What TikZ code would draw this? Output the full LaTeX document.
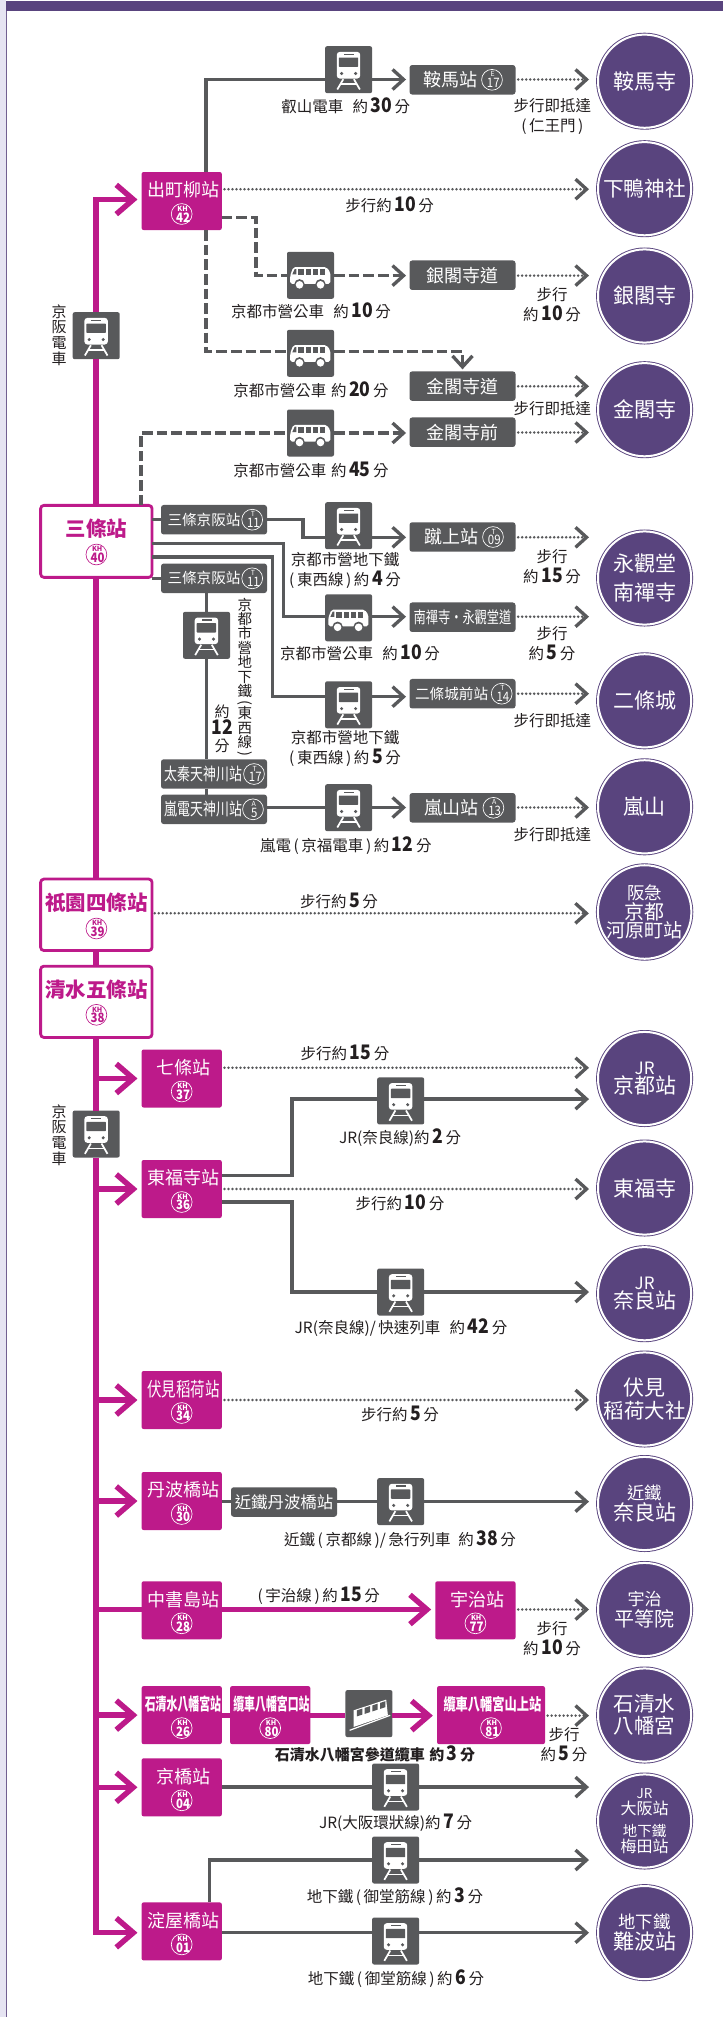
\documentclass[tikz,border=0pt]{standalone}
\usepackage{fontspec}
\setmainfont{Noto Sans CJK TC}
\newfontfamily\cond{Noto Sans CJK TC}[FakeStretch=0.75]
\newfontfamily\condb{Noto Sans CJK TC}[FakeStretch=0.64]
\newfontfamily\condn{Noto Sans CJK TC}[FakeStretch=0.88]
\usetikzlibrary{arrows.meta}
\definecolor{gr}{HTML}{58595B}
\definecolor{mg}{HTML}{BD1A8A}
\definecolor{pu}{HTML}{59447E}
\definecolor{tx}{HTML}{231F20}
\definecolor{lav}{HTML}{E6E4F2}
\newcommand\fz[2][0]{\fontsize{\fpeval{#2*0.75}}{\fpeval{(#1==0?#2*1.2:#1)*0.75}}\selectfont}
\newcommand\nm[1]{\,{\fz{20}\condn\bfseries #1}\,}
\newcommand\vparen[1]{\rotatebox[origin=c]{-90}{#1}}
\newcounter{lbl}
\tikzset{
 gl/.style={draw=gr,line width=2.5pt},
 gd/.style={gl,dash pattern=on 8pt off 3pt},
 gt/.style={draw=gr,line width=2.1pt,line cap=round,dash pattern=on 0pt off 3pt,shorten <=2pt},
 ga/.style={-{Straight Barb[length=8.25pt,width=15pt,line width=2.5pt]}},
 tobox/.style={ga,shorten >=2.6pt},
 tocirc/.style={ga,shorten >=6.75pt},
 ml/.style={draw=mg,line width=4.1pt},
 ma/.style={-{Straight Barb[length=12.75pt,width=22pt,line width=4.1pt]},shorten >=3.1pt},
 ibox/.style={fill=gr,rounded corners=1.5pt,minimum width=35.25pt,minimum height=35.25pt,inner sep=0pt,outer sep=0pt},
 mbox/.style={fill=mg,rounded corners=1.5pt,minimum height=43.5pt,inner sep=0pt,outer sep=0pt},
 gbox/.style={fill=gr,rounded corners=2pt,minimum width=79.5pt,minimum height=22.1pt,inner sep=0pt,outer sep=0pt},
 wbox/.style={draw=mg,fill=white,line width=2.1pt,rounded corners=2.5pt,minimum width=83.6pt,inner sep=0pt,outer sep=0pt},
 tcirc/.style={circle,draw=pu,double=white,double distance=1.5pt,line width=.68pt,fill=pu,minimum size=69.9pt,inner sep=0pt,outer sep=0pt,text=white,align=center},
 lbl/.style={inner sep=0pt,text=tx,align=center},
 bdg/.style={circle,minimum size=15.6pt,inner sep=0pt,line width=.5pt},
}
\newcommand\lb[4][]{\stepcounter{lbl}\node[lbl,font={\fz[20]{15.5}},#1] (lb\thelbl) at (#2,#3) {#4};}
% badge: x y letter number colour
\newcommand\bd[6][\bfseries]{\stepcounter{lbl}\node[bdg,draw=#6] (bd\thelbl) at (#2,#3) {};
 \node[inner sep=0pt,text=#6] (bl\thelbl) at (#2,#3-5.4) {\fz{7}#1 #4};
 \node[inner sep=0pt,text=#6] (bn\thelbl) at (#2,#3+3.2) {\fz{13}\condn #1 #5};}
% magenta station: name cx cy width label font number
\newcommand\stM[7]{\node[mbox,minimum width=#4*0.75pt] (#1) at (#2,#3) {};
 \node[inner sep=0pt,text=white] (#1l) at (#2,#3-11) {#6 #5};
 \bd{#2}{#3+13}{KH}{#7}{white}}
% white station
\newcommand\stW[6]{\node[wbox,minimum height=#3*0.75pt] (#1) at (96.35,#2) {};
 \node[inner sep=0pt,text=mg] (#1l) at (96.35,#4) {\fz{20.5}\bfseries #5};
 \bd{96.4}{#4+25.5}{KH}{#6}{mg}}
% grey station: name cx cy label labelcx font letter number badgecx
\newcommand\stG[9]{\node[gbox] (#1) at (#2,#3) {};
 \node[inner sep=0pt,text=white] (#1l) at (#5,#3) {#6 #4};
 \bd[]{#9}{#3}{#7}{#8}{white}}
\newcommand\stP[4]{\node[gbox] (#1) at (#2,#3) {};
 \node[inner sep=0pt,text=white] (#1l) at (#2,#3) {#4};}
\newcommand\icTrain[3]{\node[ibox] (#1) at (#2,#3) {};
 \begin{scope}[shift={(#2,#3)}]
 \fill[white,rounded corners=2.2pt] (-11.8,-17.8) rectangle (11.6,8.8);
 \fill[gr,rounded corners=.5pt] (-9.8,-12.2) rectangle (9.6,-2.8);
 \fill[gr] (-5,-16.2) rectangle (5,-14.6);
 \fill[gr] (-7,3.8) circle (1.7); \fill[gr] (7,3.8) circle (1.7);
 \draw[white,line width=1.3pt] (-5.3,9.5)--(-11.3,19.8) (5.3,9.5)--(11.3,19.8);
 \draw[white,line width=.9pt] (-7.8,14.2)--(7.8,14.2);
 \end{scope}}
\newcommand\icBus[3]{\node[ibox] (#1) at (#2,#3) {};
 \begin{scope}[shift={(#2,#3)}]
 \fill[white,rounded corners=1.4pt] (-20.3,8.6)--(-20.3,0)--(-17.2,-8.2)--(16,-8.2)--(19.8,-3)--(19.8,8.6)--cycle;
 \foreach \a/\b in {-12.3/-6.7,-5/0.3,2.2/7.2,9/14.6} \fill[gr] (\a,-6.3) rectangle (\b,-0.3);
 \fill[gr] (-18.2,-1)--(-15.8,-6.3)--(-14.2,-6.3)--(-14.2,-1)--cycle;
 \fill[gr] (-11,9) circle (5.2); \fill[gr] (10,9) circle (5.2);
 \fill[white] (-11,9.5) circle (3.8); \fill[white] (10,9.5) circle (3.8);
 \end{scope}}
\newcommand\icFuni[3]{\node[ibox] (#1) at (#2,#3) {};
 \begin{scope}[shift={(#2,#3)}]
 \fill[white] (-15.3,-3.3)--(17.3,-14)--(19,1.7)--(-15.3,13.3)--cycle;
 \foreach \a in {0,1,2,3} {\fill[gr] ({-12+\a*7.7},{-3.2-\a*2.5})--({-6.6+\a*7.7},{-5-\a*2.5})--({-6.6+\a*7.7},{1-\a*2.5})--({-12+\a*7.7},{2.8-\a*2.5})--cycle;}
 \draw[white,line width=.9pt] (-19.3,16.7)--(21.3,1.7);
 \end{scope}}
\newcommand\temple[3]{\node[tcirc] (#1) at (644.6,#2) {#3};}
\begin{document}
\begin{tikzpicture}[x=0.75pt,y=-0.75pt]
\useasboundingbox (0,0) rectangle (723,2017);
\fill[white] (0,0) rectangle (723,2017);
\fill[lav] (0,0) rectangle (5.5,2017);
\fill[pu!85] (5.5,1) rectangle (7,2017);
\fill[pu] (5.5,1) rectangle (723,11);
% ---------- temples
\temple{tKurama}{81.2}{\fz{21}鞍馬寺}
\temple{tShimo}{188.7}{\fz{20.7}下鴨神社}
\temple{tGin}{296}{\fz{21}銀閣寺}
\temple{tKin}{409.7}{\fz{21}金閣寺}
\temple{tEikan}{578}{\fz{21}永觀堂\\[5.8pt]\fz{21}南禪寺}
\temple{tNijo}{700.8}{\fz{21}二條城}
\temple{tArashi}{806.8}{\fz{21}嵐山}
\temple{tHankyu}{912}{\fz{17.5}阪急\\\fz{20}京都\\\fz{19}河原町站}
\temple{tKyoto}{1078.5}{\fz{17}JR\\\fz{21}京都站}
\temple{tTofuku}{1188}{\fz{21}東福寺}
\temple{tNara}{1293.7}{\fz{17}JR\\\fz{21}奈良站}
\temple{tInari}{1399}{\fz{21}伏見\\[1.3pt]\fz{20.5}稻荷大社}
\temple{tKintetsu}{1503.5}{\fz{17.3}近鐵\\\fz{21}奈良站}
\temple{tByodo}{1609.5}{\fz{17}宇治\\[.5pt]\fz{20}平等院}
\temple{tIwashi}{1715}{\fz{20.5}石清水\\[1.5pt]\fz{20.5}八幡宮}
\temple{tOsaka}{1821}{\fz{13.5}JR\\\fz{16}大阪站\\[4.5pt]\fz{14.5}地下鐵\\\fz{16}梅田站}
\temple{tNamba}{1932.6}{\fz{17.4}地下鐵\\\fz{21}難波站}
% ---------- white stations
\stW{sanjo}{541.35}{72}{529}{三條站}{40}
\stW{gion}{914.8}{71.5}{903}{祇園四條站}{39}
\stW{kiyo}{1001.8}{71.3}{989.3}{清水五條站}{38}
% ---------- magenta stations
\stM{chu}{181.7}{201}{80.2}{出町柳站}{\fz{18}}{42}
\stM{nana}{181.7}{1078.5}{80.2}{七條站}{\fz{18}}{37}
\stM{tofu}{181.7}{1189}{80.2}{東福寺站}{\fz{18}}{36}
\stM{fushi}{181.7}{1400}{80.2}{伏見稻荷站}{\fz{19.3}\cond}{34}
\stM{tanba}{181.7}{1501}{80.2}{丹波橋站}{\fz{18}}{30}
\stM{chus}{181.7}{1610.3}{80.2}{中書島站}{\fz{18}}{28}
\stM{uji}{475.4}{1610.3}{80.2}{宇治站}{\fz{18}}{77}
\stM{iwa}{181.7}{1715.1}{80.2}{石清水八幡宮站}{\fz{17}\condb\bfseries}{26}
\stM{ropeA}{270.2}{1715.1}{80.2}{纜車八幡宮口站}{\fz{17}\condb\bfseries}{80}
\stM{ropeB}{491}{1715.1}{108}{纜車八幡宮山上站}{\fz{16.3}\cond\bfseries}{81}
\stM{kyob}{181.7}{1787.3}{80.2}{京橋站}{\fz{18}}{04}
\stM{yodo}{181.7}{1931.4}{80.2}{淀屋橋站}{\fz{18}}{01}
% ---------- grey stations
\stG{kur}{462.5}{79.8}{鞍馬站}{448.9}{\fz{18}}{E}{17}{492}
\stP{ginD}{462.5}{275.2}{\fz{18}銀閣寺道}
\stP{kinD}{462.5}{386.1}{\fz{18}金閣寺道}
\stP{kinM}{462.5}{432.2}{\fz{18}金閣寺前}
\stG{kabA}{214}{519.7}{三條京阪站}{202.4}{\fz{14.6}}{T}{11}{252.2}
\stG{kabB}{214}{578.3}{三條京阪站}{202.4}{\fz{14.6}}{T}{11}{252.2}
\stG{keage}{462.5}{537}{蹴上站}{449.6}{\fz{18}}{T}{09}{493}
\stP{nanD}{462.5}{617.2}{\fz{16.3}\cond 南禪寺·永觀堂道}
\stG{nijoM}{462.5}{693.7}{二條城前站}{450}{\fz{14.6}}{T}{14}{501.7}
\stG{futo}{214}{774}{太秦天神川站}{202}{\fz{17.2}\cond}{T}{17}{254}
\stG{randen}{214}{809.3}{嵐電天神川站}{202}{\fz{17.2}\cond}{A}{5}{253}
\stG{arashi}{462.5}{807.8}{嵐山站}{449.6}{\fz{18}}{A}{13}{493.4}
\stP{kinT}{284}{1502}{\fz{16.4}近鐵丹波橋站}
% ---------- icons
\icTrain{iMainA}{96.2}{335.7}
\icTrain{iMainB}{96.2}{1134}
\icTrain{iKur}{348.6}{69.7}
\icBus{iGin}{310.5}{275.3}
\icBus{iKin}{310.5}{353.3}
\icBus{iKinM}{310.5}{433}
\icTrain{iKeage}{348.6}{525.7}
\icBus{iNan}{348.6}{617.8}
\icTrain{iNijo}{348.6}{704.8}
\icTrain{iTozai}{206.5}{635.3}
\icTrain{iRan}{348.6}{807.7}
\icTrain{iJrA}{400.7}{1100.9}
\icTrain{iJrB}{400.7}{1292}
\icTrain{iKintetsu}{400.7}{1501.6}
\icFuni{iFuni}{368.9}{1713.6}
\icTrain{iKanjo}{395.6}{1787}
\icTrain{iMetA}{395.6}{1860}
\icTrain{iMetB}{395.6}{1941}
% ---------- row coordinates
\coordinate (rKur) at (0,79.5);
\coordinate (rChu) at (0,199.5);
\coordinate (rShimo) at (0,189.2);
\coordinate (g1) at (256,217.7);
\coordinate (rGin) at (0,275.6);
\coordinate (k1) at (206.1,351.7);
\coordinate (rKinD) at (0,386.3);
\coordinate (s1) at (141,433);
\coordinate (rKinM) at (0,432.5);
\coordinate (c1) at (303,519.7);
\coordinate (rKe) at (0,537.3);
\coordinate (c2) at (283.6,543.3);
\coordinate (rNan) at (0,616.7);
\coordinate (c3) at (272.5,557);
\coordinate (rNij) at (0,696.7);
\coordinate (rNijT) at (0,693.7);
\coordinate (rRan) at (0,807.5);
\coordinate (rGion) at (0,913.3);
\coordinate (rNana) at (0,1067.8);
\coordinate (rJrA) at (0,1099.1);
\coordinate (d1) at (292,1175.2);
\coordinate (rTofA) at (0,1189);
\coordinate (d2) at (292,1202);
\coordinate (rJrB) at (0,1292);
\coordinate (rInari) at (0,1400);
\coordinate (rTan) at (0,1501.6);
\coordinate (rChus) at (0,1609.5);
\coordinate (rIwa) at (0,1715.6);
\coordinate (rKyob) at (0,1787.1);
\coordinate (e1) at (209.3,1860);
\coordinate (rYodoM) at (0,1932.7);
% ---------- main line
\draw[ml,ma] (iMainA.north) |- (chu.west |- rChu);
\draw[ml] (iMainA.south) -- (sanjo.north -| iMainA);
\draw[ml] (sanjo.south -| iMainA) -- (gion.north -| iMainA);
\draw[ml] (gion.south -| iMainA) -- (kiyo.north -| iMainA);
\draw[ml] (kiyo.south -| iMainA) -- (iMainB.north);
\draw[ml,ma] (iMainB.south) |- (yodo.west |- rYodoM);
\foreach \s in {nana,tofu,fushi,tanba,iwa,kyob} \draw[ml,ma] (iMainB |- \s.west) -- (\s.west);
\draw[ml] (iMainB |- rChus) -- (chus.west |- rChus);
\draw[ml,ma] (chus.east |- rChus) -- (uji.west |- rChus);
\draw[ml] (iwa.east |- rIwa) -- (ropeA.west |- rIwa);
\draw[ml] (ropeA.east |- rIwa) -- (iFuni.west |- rIwa);
\draw[ml,ma] (iFuni.east |- rIwa) -- (ropeB.west |- rIwa);
% ---------- 出町柳
\draw[gl] (chu.north -| k1) |- (iKur.west |- rKur);
\draw[gl,tobox] (iKur.east |- rKur) -- (kur.west |- rKur);
\draw[gt,tocirc] (kur.east |- rKur) -- (tKurama.west |- rKur);
\draw[gt,tocirc] (chu.east |- rShimo) -- (tShimo.west |- rShimo);
\draw[gd] (chu.east |- g1) -- (g1) |- (iGin.west |- rGin);
\draw[gd,tobox] (iGin.east |- rGin) -- (ginD.west |- rGin);
\draw[gt,tocirc] (ginD.east |- rGin) -- (tGin.west |- rGin);
\draw[gd] (chu.south -| k1) |- (iKin.west |- k1);
\draw[gd,ga,shorten >=1.5pt] (iKin.east |- k1) -| (kinD.north);
\draw[gt,tocirc] (kinD.east |- rKinD) -- (tKin.west |- rKinD);
\draw[gd] (sanjo.north -| s1) |- (iKinM.west |- s1);
\draw[gd,tobox] (iKinM.east |- s1) -- (kinM.west |- s1);
\draw[gt,tocirc] (kinM.east |- rKinM) -- (tKin.west |- rKinM);
% ---------- 三條
\draw[gl] (sanjo.east |- kabA.west) -- (kabA.west);
\draw[gl] (sanjo.east |- kabB.west) -- (kabB.west);
\draw[gl] (kabA.east) -- (c1) |- (iKeage.west |- rKe);
\draw[gl,tobox] (iKeage.east |- rKe) -- (keage.west |- rKe);
\draw[gt,tocirc] (keage.east |- rKe) -- (tEikan.west |- rKe);
\draw[gl] (sanjo.east |- c2) -- (c2) |- (iNan.west |- rNan);
\draw[gl,tobox] (iNan.east |- rNan) -- (nanD.west |- rNan);
\draw[gt,tocirc] (nanD.east |- rNan) -- (tEikan.west |- rNan);
\draw[gl] (sanjo.east |- c3) -- (c3) |- (iNijo.west |- rNij);
\draw[gl,tobox] (iNijo.east |- rNij) -- (nijoM.west |- rNij);
\draw[gt,tocirc] (nijoM.east |- rNijT) -- (tNijo.west |- rNijT);
\draw[gl] (kabB.south -| iTozai) -- (iTozai.north);
\draw[gl] (iTozai.south) -- (futo.north -| iTozai);
\draw[gl] (futo.south -| iTozai) -- (randen.north -| iTozai);
\draw[gl] (randen.east |- rRan) -- (iRan.west |- rRan);
\draw[gl,tobox] (iRan.east |- rRan) -- (arashi.west |- rRan);
\draw[gt,tocirc] (arashi.east |- rRan) -- (tArashi.west |- rRan);
\draw[gt,tocirc] (gion.east |- rGion) -- (tHankyu.west |- rGion);
% ---------- 七條 / 東福寺
\draw[gt,tocirc] (nana.east |- rNana) -- (tKyoto.west |- rNana);
\draw[gl] (tofu.east |- d1) -- (d1) |- (iJrA.west |- rJrA);
\draw[gl,tocirc] (iJrA.east |- rJrA) -- (tKyoto.west |- rJrA);
\draw[gt,tocirc] (tofu.east |- rTofA) -- (tTofuku.west |- rTofA);
\draw[gl] (tofu.east |- d2) -- (d2) |- (iJrB.west |- rJrB);
\draw[gl,tocirc] (iJrB.east |- rJrB) -- (tNara.west |- rJrB);
\draw[gt,tocirc] (fushi.east |- rInari) -- (tInari.west |- rInari);
\draw[gl] (tanba.east |- rTan) -- (kinT.west |- rTan);
\draw[gl] (kinT.east |- rTan) -- (iKintetsu.west |- rTan);
\draw[gl,tocirc] (iKintetsu.east |- rTan) -- (tKintetsu.west |- rTan);
\draw[gt,tocirc] (uji.east |- rChus) -- (tByodo.west |- rChus);
\draw[gt,tocirc] (ropeB.east |- rIwa) -- (tIwashi.west |- rIwa);
\draw[gl] (kyob.east |- rKyob) -- (iKanjo.west |- rKyob);
\draw[gl,tocirc] (iKanjo.east |- rKyob) -- (tOsaka.west |- rKyob);
\draw[gl] (yodo.north -| e1) |- (iMetA.west |- e1);
\draw[gl,tocirc] (iMetA.east |- e1) -- (tOsaka.west |- e1);
\draw[gl] (yodo.east |- rYodoM) -- (iMetB.west |- rYodoM);
\draw[gl,tocirc] (iMetB.east |- rYodoM) -- (tNamba.west |- rYodoM);
% ---------- labels
\lb[font={\fz[15.7]{15}}]{59}{335}{京\\阪\\電\\車}
\lb[font={\fz[15.7]{15}}]{59}{1135}{京\\阪\\電\\車}
\lb{345.7}{106}{叡山電車\hspace{.6em}約\nm{30}分}
\lb{552.4}{116.6}{步行即抵達\\(\,仁王門\,)}
\lb{389.6}{205}{步行約\nm{10}分}
\lb{311}{310.7}{京都市營公車\hspace{.6em}約\nm{10}分}
\lb{552}{305}{步行\\約\nm{10}分}
\lb{311}{389.3}{京都市營公車\hspace{.3em}約\nm{20}分}
\lb{552.4}{409}{步行即抵達}
\lb{311}{470}{京都市營公車\hspace{.3em}約\nm{45}分}
\lb{345}{570.6}{京都市營地下鐵\\(\,東西線\,)\,約\nm{4}分}
\lb{552}{566.7}{步行\\約\nm{15}分}
\lb{360}{652.7}{京都市營公車\hspace{.6em}約\nm{10}分}
\lb{552}{643.3}{步行\\約\nm{5}分}
\lb{345}{748.7}{京都市營地下鐵\\(\,東西線\,)\,約\nm{5}分}
\lb{552.4}{720.7}{步行即抵達}
\lb{345.8}{845.7}{嵐電\,(\,京福電車\,)\,約\nm{12}分}
\lb{552.4}{835}{步行即抵達}
\lb{339}{900.7}{步行約\nm{5}分}
\lb{345}{1053}{步行約\nm{15}分}
\lb{400}{1137.7}{JR(奈良線)約\nm{2}分}
\lb{400}{1203}{步行約\nm{10}分}
\lb{401}{1327.5}{JR(奈良線)/\,快速列車\hspace{.6em}約\nm{42}分}
\lb{400}{1414}{步行約\nm{5}分}
\lb{400}{1540}{近鐵\,(\,京都線\,)/\,急行列車\hspace{.5em}約\nm{38}分}
\lb{318.8}{1595.8}{(\,宇治線\,)\,約\nm{15}分}
\lb{552}{1639}{步行\\約\nm{10}分}
\lb[font={\fz{15}\bfseries}]{375}{1754}{石清水八幡宮參道纜車\hspace{.3em}約\nm{3}分}
\lb{564}{1744.6}{步行\\約\nm{5}分}
\lb{395.6}{1822.5}{JR(大阪環狀線)約\nm{7}分}
\lb{394.9}{1897}{地下鐵\,(\,御堂筋線\,)\,約\nm{3}分}
\lb{396}{1978.3}{地下鐵\,(\,御堂筋線\,)\,約\nm{6}分}
\lb[font={\fz[14.4]{14.5}}]{244.8}{678}{京\\都\\市\\營\\地\\下\\鐵\\[-2.4pt]\vparen{(}\\[-2.4pt]東\\西\\線\\[-3pt]\vparen{)}}
\lb[font={\fz[17]{15}}]{222}{729}{約\\\nm{12}\\分}
\end{tikzpicture}
\end{document}
